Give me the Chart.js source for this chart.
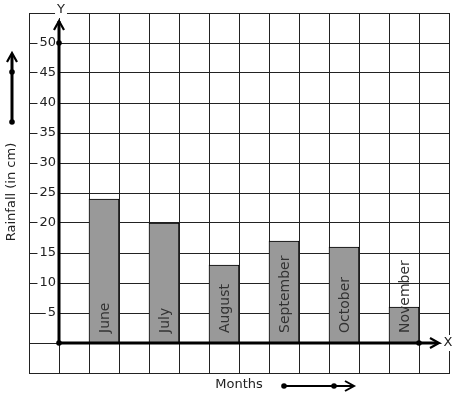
<!DOCTYPE html>
<html>
<head>
<meta charset="utf-8">
<script src="https://cdn.jsdelivr.net/npm/chart.js@4.4.1/dist/chart.umd.min.js"></script>
<style>
  html, body { margin: 0; padding: 0; background: #fff; }
  #wrap { width: 457px; height: 399px; position: relative; }
</style>
</head>
<body>
<div id="wrap"><canvas id="chart" width="457" height="399"></canvas></div>
<script>
// Chart data
const months = ['June', 'July', 'August', 'September', 'October', 'November'];
const rainfall = [24, 20, 13, 17, 16, 6];
const yTickLabels = [5, 10, 15, 20, 25, 30, 35, 40, 45, 50];

// grid columns: two empty ones, then every month followed by an empty one
const slots = ['', ''];
months.forEach(m => slots.push(m, ''));
const slotValues = slots.map(s => (s ? rainfall[months.indexOf(s)] : null));

const ink = '#222';
const font13 = '13px "DejaVu Sans", sans-serif';
const font14 = '14px "DejaVu Sans", sans-serif';

function dot(ctx, x, y) {
  ctx.beginPath();
  ctx.arc(x, y, 2.8, 0, Math.PI * 2);
  ctx.fill();
}

// open arrow head, dir is 'up' or 'right'
function head(ctx, x, y, dir) {
  ctx.beginPath();
  if (dir === 'up') {
    ctx.moveTo(x - 5, y + 9);
    ctx.lineTo(x, y);
    ctx.lineTo(x + 5, y + 9);
  } else {
    ctx.moveTo(x - 9, y - 5);
    ctx.lineTo(x, y);
    ctx.lineTo(x - 9, y + 5);
  }
  ctx.stroke();
}

function boxedText(ctx, text, x, y, align) {
  ctx.textAlign = align;
  ctx.textBaseline = 'middle';
  const w = ctx.measureText(text).width;
  let left = x - w / 2;
  if (align === 'right') left = x - w;
  ctx.fillStyle = '#fff';
  ctx.fillRect(left - 2, y - 8, w + 4, 16);
  ctx.fillStyle = ink;
  ctx.fillText(text, x, y);
}

const axesPlugin = {
  id: 'axesPlugin',
  afterDatasetsDraw(chart) {
    const ctx = chart.ctx;
    const xs = chart.scales.x;
    const ys = chart.scales.y;
    const area = chart.chartArea;
    const x0 = xs.getPixelForValue(0.5);
    const y0 = ys.getPixelForValue(0);

    ctx.save();

    // month names inside the bars
    const meta = chart.getDatasetMeta(0);
    ctx.font = font14;
    ctx.fillStyle = '#333';
    meta.data.forEach((bar, i) => {
      if (!slots[i]) return;
      ctx.save();
      ctx.translate(bar.x + 1, y0 - 10);
      ctx.rotate(-Math.PI / 2);
      ctx.textAlign = 'left';
      ctx.textBaseline = 'middle';
      ctx.fillText(slots[i], 0, 0);
      ctx.restore();
    });

    // y tick labels
    ctx.font = font13;
    yTickLabels.forEach(v => {
      boxedText(ctx, String(v), x0 - 3, ys.getPixelForValue(v), 'right');
    });

    // axes
    ctx.strokeStyle = '#000';
    ctx.fillStyle = '#000';
    ctx.lineWidth = 3;
    ctx.beginPath();
    ctx.moveTo(x0, y0);
    ctx.lineTo(x0, area.top + 8);
    ctx.moveTo(x0, y0);
    ctx.lineTo(area.right - 11, y0);
    ctx.stroke();
    ctx.lineWidth = 2.2;
    head(ctx, x0, area.top + 8, 'up');
    head(ctx, area.right - 10, y0, 'right');
    dot(ctx, x0, y0);
    dot(ctx, x0, ys.getPixelForValue(50));
    dot(ctx, xs.getPixelForValue(12.5), y0);

    // axis letters
    ctx.font = font13;
    boxedText(ctx, 'Y', x0 + 2, area.top - 3, 'center');
    boxedText(ctx, 'X', area.right - 1, y0, 'center');

    // side legend arrow and title
    ctx.strokeStyle = '#000';
    ctx.fillStyle = '#000';
    ctx.lineWidth = 3;
    ctx.beginPath();
    ctx.moveTo(12, 122);
    ctx.lineTo(12, 55);
    ctx.stroke();
    ctx.lineWidth = 2.2;
    head(ctx, 12, 53, 'up');
    dot(ctx, 12, 122);
    dot(ctx, 12, 72);

    ctx.save();
    ctx.translate(12, 192);
    ctx.rotate(-Math.PI / 2);
    ctx.fillStyle = ink;
    ctx.textAlign = 'center';
    ctx.textBaseline = 'middle';
    ctx.fillText('Rainfall (in cm)', 0, 0);
    ctx.restore();

    // bottom legend title and arrow
    ctx.fillStyle = ink;
    ctx.textAlign = 'center';
    ctx.textBaseline = 'middle';
    ctx.fillText('Months', 239, 385);
    ctx.strokeStyle = '#000';
    ctx.fillStyle = '#000';
    ctx.lineWidth = 2;
    ctx.beginPath();
    ctx.moveTo(284, 386);
    ctx.lineTo(353, 386);
    ctx.stroke();
    head(ctx, 354, 386, 'right');
    dot(ctx, 284, 386);
    dot(ctx, 334, 386);

    ctx.restore();
  }
};

new Chart(document.getElementById('chart'), {
  type: 'bar',
  data: {
    labels: slots,
    datasets: [{
      label: 'Rainfall (in cm)',
      data: slotValues,
      backgroundColor: '#999999',
      borderColor: '#000',
      borderWidth: 1,
      barPercentage: 1,
      categoryPercentage: 1
    }]
  },
  options: {
    responsive: false,
    animation: false,
    devicePixelRatio: 1,
    layout: { padding: { left: 29, top: 13, right: 8, bottom: 26 } },
    plugins: {
      legend: { display: false },
      tooltip: { enabled: false }
    },
    scales: {
      x: {
        type: 'category',
        offset: true,
        grid: { offset: true, color: ink, lineWidth: 1, drawTicks: false },
        border: { color: ink, width: 1 },
        ticks: { display: false }
      },
      y: {
        type: 'linear',
        min: -5,
        max: 55,
        grid: { color: ink, lineWidth: 1, drawTicks: false },
        border: { color: ink, width: 1 },
        ticks: { display: false, stepSize: 5 }
      }
    }
  },
  plugins: [axesPlugin]
});
</script>
</body>
</html>
